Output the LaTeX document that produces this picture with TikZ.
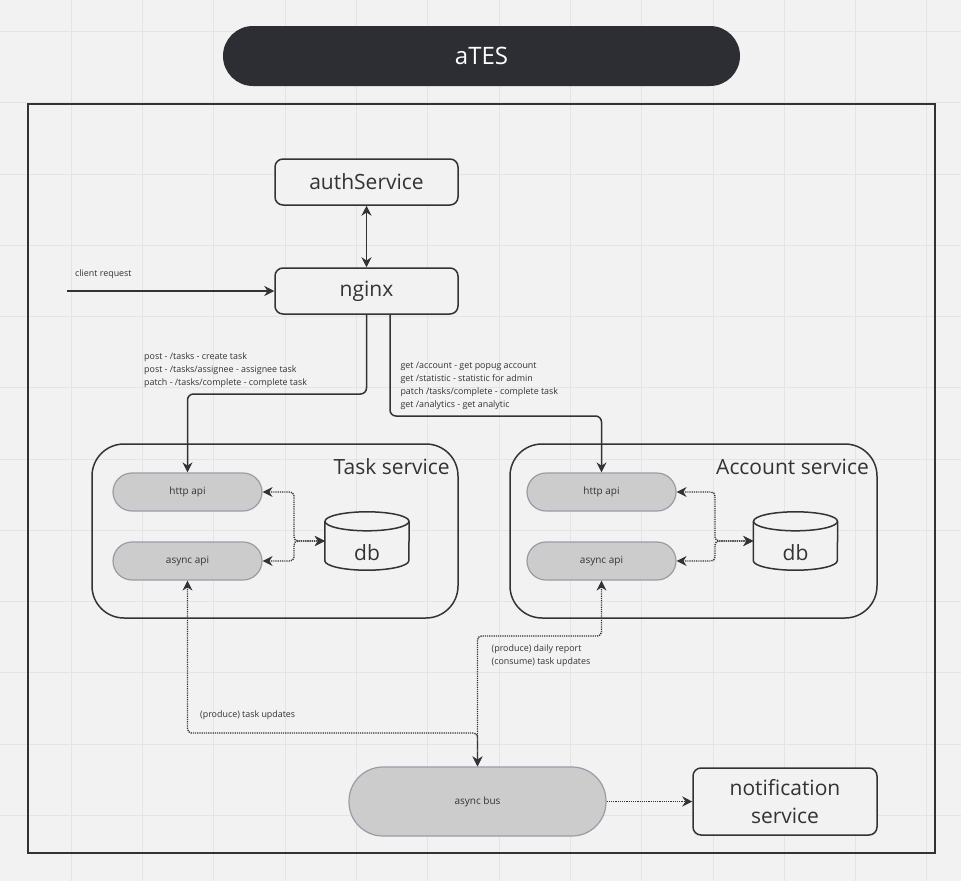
\documentclass[tikz,border=0pt]{standalone}
\usepackage{fontspec}
\setmainfont{Open Sans}
\usetikzlibrary{arrows.meta,calc}
\definecolor{bg}{HTML}{F2F2F2}
\definecolor{gridc}{HTML}{E4E4E4}
\definecolor{ink}{HTML}{333333}
\definecolor{titlefill}{HTML}{2D2E33}
\definecolor{pillfill}{HTML}{CCCCCC}
\definecolor{pillline}{HTML}{9B9BA8}
\tikzset{
  box/.style={draw=ink, line width=1.5pt, rounded corners=8pt, fill=bg, text=ink, font=\fontsize{21}{24}\selectfont, inner sep=0pt},
  pill/.style={draw=pillline, line width=1.2pt, fill=pillfill, text=ink, font=\fontsize{10}{12}\selectfont, inner sep=0pt},
  container/.style={draw=ink, line width=1.5pt, rounded corners=32pt, inner sep=0pt},
  ctitle/.style={text=ink, font=\fontsize{21}{24}\selectfont, inner sep=0pt, anchor=east},
  lbl/.style={text=ink, font=\fontsize{8.9}{13}\selectfont, inner sep=0pt, anchor=west, align=left},
  solidarr/.style={draw=ink, line width=1.5pt, rounded corners=6pt, -{Stealth[length=10pt,width=10pt]}},
  dotline/.style={draw=ink, line width=1.4pt, dash pattern=on 1.2pt off 1.0pt, rounded corners=4pt},
  tip/.style={-{Stealth[length=10pt,width=10pt]}},
  btip/.style={{Stealth[length=10pt,width=10pt]}-{Stealth[length=10pt,width=10pt]}},
  dbbox/.style={minimum width=84pt, minimum height=58pt, inner sep=0pt}
}
\begin{document}
\begin{tikzpicture}[x=1pt,y=-1pt]
\useasboundingbox (0,0) rectangle (961,881);
\fill[bg] (0,0) rectangle (961,881);
% grid
\foreach \i in {1,...,13} {\draw[gridc, line width=1pt] ({71.3*\i},0) -- ({71.3*\i},881);}
\foreach \j in {0,...,12} {\draw[gridc, line width=1pt] (0,{31.5+71.25*\j}) -- (961,{31.5+71.25*\j});}
% frame
\node[draw=ink, line width=1.5pt, minimum width=907pt, minimum height=749pt, inner sep=0pt] (frame) at (481.5,478.5) {};
% title
\node[fill=titlefill, rounded corners=30pt, minimum width=517pt, minimum height=60pt, inner sep=0pt, text=white, font=\fontsize{24}{28}\selectfont] (title) at (481.5,56) {aTES};
% auth, nginx
\node[box, minimum width=183pt, minimum height=46pt] (auth) at (366.5,182) {authService};
\node[box, minimum width=183pt, minimum height=46pt] (nginx) at (366.5,291) {nginx};
% containers
\node[container, minimum width=366pt, minimum height=174pt] (tsvc) at (275,531) {};
\node[ctitle] (tsvct) at (450,467) {Task service};
\node[container, minimum width=367pt, minimum height=174pt] (asvc) at (693.5,531) {};
\node[ctitle] (asvct) at (869,467) {Account service};
% pills
\node[pill, rounded corners=19pt, minimum width=149pt, minimum height=38pt] (thttp) at (187.5,492) {http api};
\node[pill, rounded corners=19pt, minimum width=149pt, minimum height=38pt] (tasync) at (187.5,561) {async api};
\node[pill, rounded corners=19pt, minimum width=149pt, minimum height=38pt] (ahttp) at (601.5,492) {http api};
\node[pill, rounded corners=19pt, minimum width=149pt, minimum height=38pt] (aasync) at (601.5,561) {async api};
% db cylinders
\node[dbbox] (tdb) at (367,541) {};
\node[dbbox] (adb) at (795.5,541) {};
\foreach \d in {tdb,adb} {
  \fill[bg] ($(\d.north west)+(0,9.5)$) -- ($(\d.south west)+(0,-9.5)$) arc[start angle=180,end angle=360,x radius=42pt,y radius=9.5pt] -- ($(\d.north east)+(0,9.5)$) -- cycle;
  \fill[bg] ($(\d.north)+(0,9.5)$) ellipse[x radius=42pt, y radius=9.5pt];
  \draw[ink, line width=1.5pt] ($(\d.north west)+(0,9.5)$) -- ($(\d.south west)+(0,-9.5)$) arc[start angle=180,end angle=360,x radius=42pt,y radius=9.5pt] -- ($(\d.north east)+(0,9.5)$);
  \draw[ink, line width=1.5pt] ($(\d.north)+(0,9.5)$) ellipse[x radius=42pt, y radius=9.5pt];
  \node[text=ink, font=\fontsize{21}{24}\selectfont, inner sep=0pt] at ($(\d.center)+(0,12)$) {db};
}
% bus, notification
\node[pill, rounded corners=34pt, minimum width=257pt, minimum height=69pt] (bus) at (477.5,801.5) {async bus};
\node[box, minimum width=184pt, minimum height=67pt, align=center, font=\fontsize{21}{28}\selectfont] (notif) at (785,801.5) {notification\\service};
% solid connectors
\draw[draw=ink, line width=1.5pt, btip] (auth.south) -- (nginx.north);
\coordinate (client) at (67,291);
\draw[solidarr] (client) -- (nginx.west);
\node[lbl] (clientl) at (75,274.5) {client request};
\coordinate (c1) at (187.5,394);
\draw[solidarr] (nginx.south) |- (c1) -- (thttp.north);
\coordinate (c2) at (601.5,416);
\draw[solidarr] ([xshift=23.5pt]nginx.south) |- (c2) -- (ahttp.north);
\node[lbl] (tl) at (144,369.7) {post - /tasks - create task\\post - /tasks/assignee - assignee task\\patch - /tasks/complete - complete task};
\node[lbl] (al) at (400.3,386) {get /account - get popug account\\get /statistic - statistic for admin\\patch /tasks/complete - complete task\\get /analytics - get analytic};
% db dotted
\coordinate (tj) at (294,541);
\draw[dotline, btip] (thttp.east) -| (tj) -- (tdb.west);
\draw[dotline, btip] (tasync.east) -| (tj) -- (tdb.west);
\coordinate (aj) at (715,541);
\draw[dotline, btip] (ahttp.east) -| (aj) -- (adb.west);
\draw[dotline, btip] (aasync.east) -| (aj) -- (adb.west);
% async bus dotted
\coordinate (c3) at (477.5,733);
\draw[dotline, btip] (tasync.south) |- (c3) -- (bus.north);
\coordinate (c4) at (477.5,636);
\draw[dotline, btip] (aasync.south) |- (c4) -- (bus.north);
\node[lbl] (bl1) at (200,715.5) {(produce) task updates};
\node[lbl] (bl2) at (491.5,656) {(produce) daily report\\(consume) task updates};
\draw[dotline, tip] (bus.east) -- (notif.west);
\end{tikzpicture}
\end{document}
